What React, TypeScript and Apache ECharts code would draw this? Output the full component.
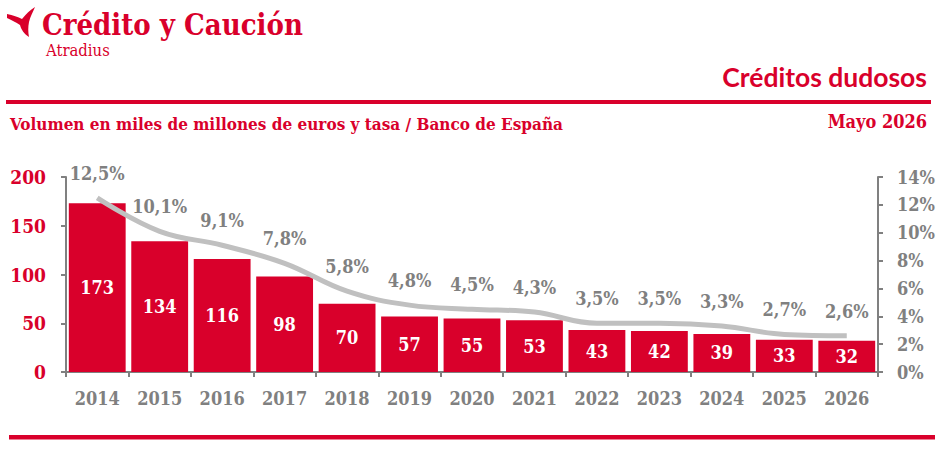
import React, { useEffect, useRef } from "react";
import * as echarts from "echarts";

const years = ["2014", "2015", "2016", "2017", "2018", "2019", "2020", "2021", "2022", "2023", "2024", "2025", "2026"];
const volume = [173, 134, 116, 98, 70, 57, 55, 53, 43, 42, 39, 33, 32];
const rate = [12.5, 10.1, 9.1, 7.8, 5.8, 4.8, 4.5, 4.3, 3.5, 3.5, 3.3, 2.7, 2.6];

const brandName = "Crédito y Caución";
const brandSub = "Atradius";
const chartTitle = "Créditos dudosos";
const subtitle = "Volumen en miles de millones de euros y tasa / Banco de España";
const dateLabel = "Mayo 2026";

const RED = "#d9002b";
const GREY = "#808080";
const SLAB = "'DejaVu Serif Condensed', 'DejaVu Serif', serif";
const SANS = "Lato, 'Noto Sans', sans-serif";

const birdPath =
  "M0,7 C6,8 11,10 15,12 C19,7 23,3 28,0 C26,5 23,10 22,15 C21,20 21,25 22,30 C17,27 14,22 13,18 C9,15 4,13 0,11 Z";

export default function App() {
  const ref = useRef<HTMLDivElement>(null);
  useEffect(() => {
    document.body.style.margin = "0";
    echarts.graphic.registerShape("bird", echarts.graphic.extendPath(birdPath, {}) as any);
    const chart = echarts.init(ref.current!, null, { renderer: "svg" });
    chart.setOption({
      animation: false,
      grid: { left: 66, right: 68, top: 177, bottom: 85, containLabel: false },
      xAxis: {
        type: "category",
        data: years,
        axisLine: { lineStyle: { color: GREY, width: 2 } },
        axisTick: { show: true, length: 5, lineStyle: { color: GREY, width: 2 } },
        axisLabel: { color: GREY, fontFamily: SLAB, fontWeight: "bold", fontSize: 18, margin: 17 },
      },
      yAxis: [
        {
          type: "value",
          min: 0,
          max: 200,
          interval: 50,
          axisLine: { show: true, lineStyle: { color: GREY, width: 2 } },
          axisTick: { show: true, length: 5, lineStyle: { color: GREY, width: 2 } },
          axisLabel: { color: RED, fontFamily: SLAB, fontWeight: "bold", fontSize: 19, margin: 20 },
          splitLine: { show: false },
        },
        {
          type: "value",
          position: "right",
          min: 0,
          max: 14,
          interval: 2,
          axisLine: { show: true, lineStyle: { color: GREY, width: 2 } },
          axisTick: { show: true, length: 5, lineStyle: { color: GREY, width: 2 } },
          axisLabel: {
            color: GREY,
            fontFamily: SLAB,
            fontWeight: "bold",
            fontSize: 18,
            margin: 19,
            formatter: (v: number) => `${v}%`,
          },
          splitLine: { show: false },
        },
      ],
      series: [
        {
          type: "bar",
          data: volume,
          barCategoryGap: "9%",
          itemStyle: { color: RED },
          label: {
            show: true,
            position: "inside",
            color: "#ffffff",
            fontFamily: SLAB,
            fontWeight: "bold",
            fontSize: 18,
          },
        },
        {
          type: "line",
          yAxisIndex: 1,
          data: rate,
          smooth: 0.4,
          symbol: "circle",
          symbolSize: 1,
          itemStyle: { color: "rgba(0,0,0,0)" },
          lineStyle: { color: "#c0c0c0", width: 5 },
          label: {
            show: true,
            position: "top",
            distance: 15,
            color: GREY,
            fontFamily: SLAB,
            fontWeight: "bold",
            fontSize: 18,
            formatter: (p: any) => String(p.value).replace(".", ",") + "%",
          },
        },
      ],
      graphic: [
        {
          type: "bird",
          x: 7,
          y: 7,
          shape: {},
          style: { fill: RED },
        },
        {
          type: "text",
          x: 42,
          y: 25,
          style: { text: brandName, fill: RED, font: `bold 29px ${SLAB}`, align: "left", verticalAlign: "middle" },
        },
        {
          type: "text",
          x: 46,
          y: 50,
          style: { text: brandSub, fill: RED, font: `16.5px ${SLAB}`, align: "left", verticalAlign: "middle" },
        },
        {
          type: "text",
          x: 927,
          y: 77,
          style: { text: chartTitle, fill: RED, font: `bold 26.5px ${SANS}`, align: "right", verticalAlign: "middle" },
        },
        { type: "rect", shape: { x: 6, y: 100, width: 925, height: 4 }, style: { fill: RED } },
        {
          type: "text",
          x: 10,
          y: 124,
          style: { text: subtitle, fill: RED, font: `bold 17px ${SLAB}`, align: "left", verticalAlign: "middle" },
        },
        {
          type: "text",
          x: 927,
          y: 121,
          style: { text: dateLabel, fill: RED, font: `bold 18px ${SLAB}`, align: "right", verticalAlign: "middle" },
        },
        { type: "rect", shape: { x: 9, y: 435, width: 926, height: 4.5 }, style: { fill: RED } },
      ],
    });
    return () => chart.dispose();
  }, []);
  return <div ref={ref} style={{ width: 946, height: 457 }} />;
}
